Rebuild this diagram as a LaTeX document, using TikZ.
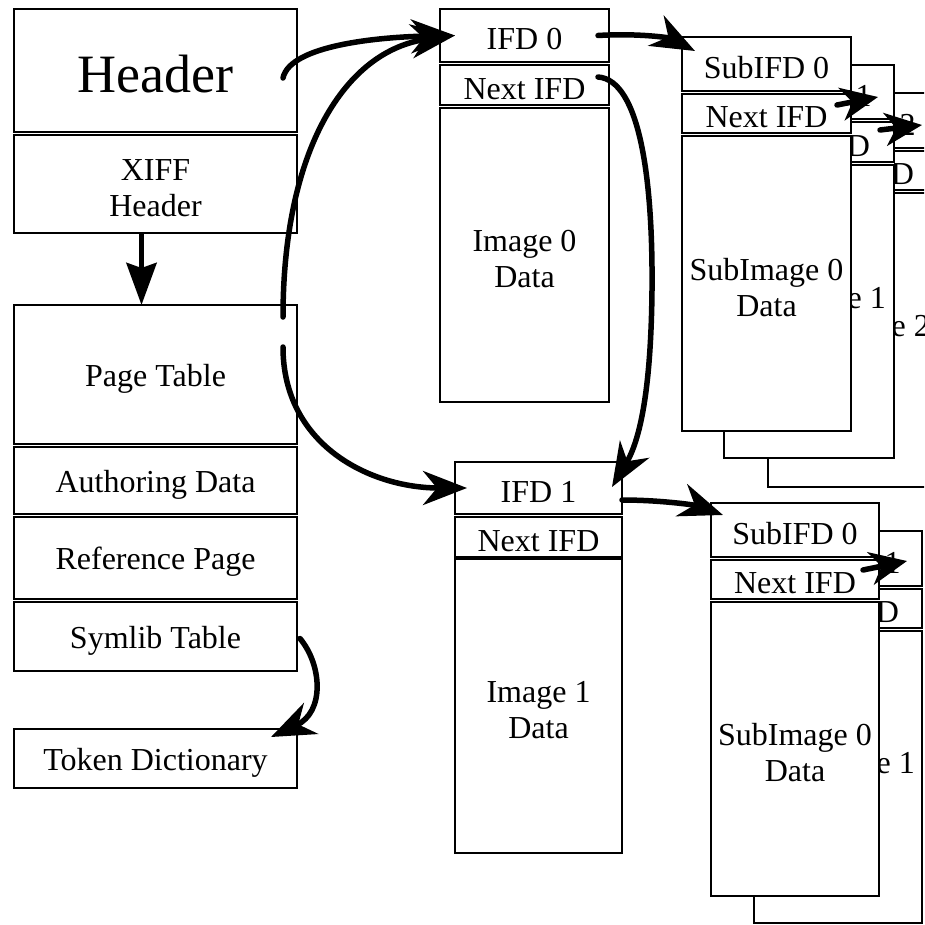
\documentclass[tikz,border=0pt]{standalone}
\usepackage{fontspec}
\setmainfont{Liberation Serif}
\usetikzlibrary{arrows.meta}
\newcommand{\fsn}{\fontsize{32}{36}\selectfont}
\newcommand{\fsbig}{\fontsize{54}{60}\selectfont}
\newcommand{\mybox}[6]{\node[box, anchor=north west, minimum width=#4pt, minimum height=#5pt, label={[boxtext]center:#6}] (#1) at (#2,#3) {};}
\tikzset{
  box/.style={draw, line width=1.6pt, fill=white, inner sep=0pt, outer sep=0pt},
  boxtext/.style={align=center, font=\fsn, inner sep=0pt, yshift=-4pt},
  stackbg/.style={fill=white},
  bigarrow/.style={line width=5.5pt, line cap=round, -{Stealth[length=44pt, width=34pt, inset=14pt]}},
  downarrow/.style={line width=5.5pt, -{Stealth[length=42pt, width=30pt, inset=5pt]}},
  smallarrow/.style={line width=5.5pt, line cap=round, -{Stealth[length=37pt, width=33pt, inset=11pt]}}
}
\begin{document}
\begin{tikzpicture}[x=1pt, y=-1pt]
\useasboundingbox (0,0) rectangle (924,925);
\clip (0,0) rectangle (924,925);
% left column
\mybox{hdr}{14}{9}{283}{123}{\fsbig Header}
\mybox{xiff}{14}{135}{283}{98}{XIFF\\Header}
\mybox{ptab}{14}{305}{283}{139}{Page Table}
\mybox{auth}{14}{447}{283}{67}{Authoring Data}
\mybox{refp}{14}{517}{283}{82}{Reference Page}
\mybox{syml}{14}{602}{283}{69}{Symlib Table}
\mybox{tok}{14}{729}{283}{59}{Token Dictionary}
% IFD 0 column
\mybox{ifd0}{440}{9}{169}{53}{IFD 0}
\mybox{nxt0}{440}{65}{169}{40}{Next IFD}
\mybox{img0}{440}{108}{169}{294}{Image 0\\Data}
% IFD 1 column
\mybox{ifd1}{455}{462}{167}{52}{IFD 1}
\mybox{nxt1}{455}{517}{167}{40}{Next IFD}
\mybox{img1}{455}{559}{167}{294}{Image 1\\Data}
% top sub stack (back to front)
\fill[stackbg] (768,93) rectangle (938,487);
\mybox{a2s}{768}{93}{170}{55}{SubIFD 2}
\mybox{a2n}{768}{151}{170}{39}{Next IFD}
\mybox{a2d}{768}{193}{170}{294}{SubImage 2\\Data}
\fill[stackbg] (724,65) rectangle (894,458);
\mybox{a1s}{724}{65}{170}{54}{SubIFD 1}
\mybox{a1n}{724}{122}{170}{40}{Next IFD}
\mybox{a1d}{724}{165}{170}{293}{SubImage 1\\Data}
\fill[stackbg] (682,37) rectangle (851,431);
\mybox{a0s}{682}{37}{169}{54}{SubIFD 0}
\mybox{a0n}{682}{94}{169}{39}{Next IFD}
\mybox{a0d}{682}{136}{169}{295}{SubImage 0\\Data}
% bottom sub stack
\fill[stackbg] (754,531) rectangle (922,923);
\mybox{b1s}{754}{531}{168}{55}{SubIFD 1}
\mybox{b1n}{754}{589}{168}{39}{Next IFD}
\mybox{b1d}{754}{631}{168}{292}{SubImage 1\\Data}
\fill[stackbg] (711,503) rectangle (879,896);
\mybox{b0s}{711}{503}{168}{54}{SubIFD 0}
\mybox{b0n}{711}{560}{168}{39}{Next IFD}
\mybox{b0d}{711}{602}{168}{294}{SubImage 0\\Data}
% connectors
\draw[downarrow] ([xshift=-14pt]xiff.south) -- ([xshift=-14pt]ptab.north);
\draw[bigarrow] ([shift={(-14pt,-7.5pt)}]hdr.east) .. controls (290,45) and (380,37) .. ([xshift=15pt]ifd0.west);
\draw[bigarrow] ([shift={(-14pt,-12pt)}]ptab.north east) .. controls (283,150) and (345,50) .. ([xshift=15pt]ifd0.west);
\draw[bigarrow] ([shift={(-14pt,-42pt)}]ptab.north east) .. controls (283,445) and (370,488) .. ([xshift=12pt]ifd1.west);
\draw[bigarrow] ([xshift=-11pt]ifd0.east) .. controls (640,33) and (670,38) .. ([shift={(13pt,-14pt)}]a0s.north west);
\draw[bigarrow] ([shift={(-11pt,8pt)}]nxt0.east) .. controls (640,80) and (653,180) .. (652,290) .. controls (651,390) and (640,440) .. ([shift={(-10pt,-25pt)}]ifd1.north east);
\draw[bigarrow] ([yshift=-12pt]ifd1.east) .. controls (660,500) and (695,505) .. ([shift={(12pt,-12pt)}]b0s.north west);
\draw[bigarrow] ([shift={(3pt,-2pt)}]syml.east) .. controls (322,665) and (325,712) .. ([shift={(-26pt,-8pt)}]tok.north east);
\draw[smallarrow] ([shift={(-14pt,8.5pt)}]a0n.east) -- ([shift={(-16pt,-5pt)}]a1s.east);
\draw[smallarrow] ([shift={(-14pt,12pt)}]a1n.east) -- ([shift={(-16pt,-4.5pt)}]a2s.east);
\draw[smallarrow] ([shift={(-16pt,9.5pt)}]b0n.east) -- ([shift={(-15pt,-2.5pt)}]b1s.east);
\end{tikzpicture}
\end{document}
